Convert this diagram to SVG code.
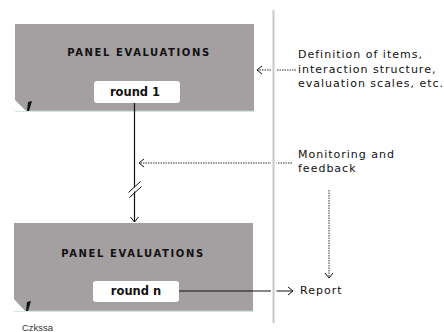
<svg xmlns="http://www.w3.org/2000/svg" width="444" height="332" viewBox="0 0 444 332">
<style>
.panel{fill:#a49fa1}
.edge{stroke:#a8cfc4;stroke-width:1}
.title{font-family:"DejaVu Sans",Verdana,sans-serif;font-weight:bold;font-size:10px;letter-spacing:1.6px;fill:#111;text-anchor:middle}
.rbox{fill:#fff}
.rtext{font-family:"DejaVu Sans",Verdana,sans-serif;font-weight:bold;font-size:11.5px;fill:#111;text-anchor:middle}
.note{font-family:"DejaVu Sans",Verdana,sans-serif;font-size:11px;letter-spacing:1px;fill:#111}
.solid{stroke:#111;stroke-width:1.2;fill:none}
.dot{stroke:#333;stroke-width:1;stroke-dasharray:1.5 1;fill:none}
.head{stroke:#111;stroke-width:1;fill:none}
</style>
<defs>
<marker id="ah" markerUnits="userSpaceOnUse" markerWidth="10" markerHeight="12" refX="6" refY="5" orient="auto">
<path d="M1,1 L6,5 L1,9" class="head"/>
</marker>
</defs>
<g id="panel1">
<rect class="panel" x="15" y="24" width="239" height="87"/>
<line class="edge" x1="15" y1="111" x2="254" y2="111"/>
<polygon points="15,100 15,111 26,111" fill="#fff"/>
<polygon points="28,102 32,101 29,111 27,111" fill="#111"/>
<text class="title" x="139" y="56">PANEL EVALUATIONS</text>
<rect class="rbox" x="94" y="81" width="86" height="22" rx="3"/>
<text class="rtext" x="135" y="96">round 1</text>
</g>
<g id="panel2">
<rect class="panel" x="14" y="223" width="239" height="88"/>
<line class="edge" x1="14" y1="311" x2="253" y2="311"/>
<polygon points="14,299 14,311 25,311" fill="#fff"/>
<polygon points="27,302 31,301 28,311 26,311" fill="#111"/>
<text class="title" x="133" y="257">PANEL EVALUATIONS</text>
<rect class="rbox" x="93" y="281" width="86" height="21" rx="3"/>
<text class="rtext" x="136" y="295">round n</text>
</g>
<g id="connectors">
<line class="solid" x1="134.5" y1="103" x2="134.5" y2="222" marker-end="url(#ah)"/>
<line x1="128" y1="195" x2="142" y2="183" stroke="#fff" stroke-width="3"/>
<line x1="128.5" y1="192.5" x2="140.5" y2="181.5" stroke="#111" stroke-width="1"/>
<line x1="129.5" y1="197.5" x2="141.5" y2="186.5" stroke="#111" stroke-width="1"/>
<line class="dot" x1="292" y1="163" x2="139" y2="163" marker-end="url(#ah)"/>
<line class="dot" x1="296" y1="70" x2="257" y2="70" marker-end="url(#ah)"/>
<line class="solid" x1="179" y1="291" x2="293" y2="291" marker-end="url(#ah)"/>
<line class="dot" x1="329" y1="190" x2="329" y2="278" marker-end="url(#ah)"/>
</g>
<g id="divider">
<rect x="271" y="10" width="5.5" height="313" fill="#fff"/>
<line x1="273.5" y1="10" x2="273.5" y2="323" stroke="#c8c8c8" stroke-width="2"/>
</g>
<g id="notes">
<text class="note" x="298" y="58">Definition of items,</text>
<text class="note" x="298" y="72.5">interaction structure,</text>
<text class="note" x="298" y="87">evaluation scales, etc.</text>
<text class="note" x="298" y="158">Monitoring and</text>
<text class="note" x="298" y="172">feedback</text>
<text class="note" x="300" y="294">Report</text>
</g>
<text x="22" y="330.5" font-family="Liberation Sans, Arial, sans-serif" font-size="9.5" fill="#333">Czkssa</text>
</svg>
